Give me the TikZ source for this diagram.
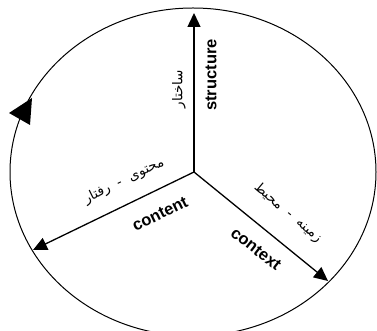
\documentclass[tikz,border=0pt]{standalone}
\usepackage{fontspec}
\setmainfont{Liberation Sans}
\newfontfamily\farsifont[Script=Arabic]{DejaVu Sans}
\TeXXeTstate=1
\usetikzlibrary{arrows.meta}
\newcommand{\fa}[1]{{\farsifont\beginR #1\endR}}

\begin{document}
\begin{tikzpicture}[x=1pt,y=1pt,
  axis/.style={line width=1.3pt, -{Triangle[length=14pt,width=13pt]}},
  enlabel/.style={font=\bfseries\fontsize{16.5}{16.5}\selectfont, inner sep=0pt},
  falabel/.style={font=\fontsize{13.5}{13.5}\selectfont, inner sep=0pt}]

  \useasboundingbox (0,0) rectangle (377,331);
  \clip (0,0) rectangle (377,331);

  % Outer ellipse
  \draw[line width=1pt] (193,159) ellipse [x radius=183, y radius=164];

  % Turning mark on the ellipse
  \fill (9,218) -- (32,233) -- (30,206) -- cycle;

  % Centre and axis ends
  \coordinate (O) at (194,159);
  \coordinate (S) at (194,318);
  \coordinate (C) at (33,81);
  \coordinate (X) at (328,50);

  % Axes
  \draw[axis] (O) -- (S);
  \draw[axis] (O) -- (C);
  \draw[axis] (O) -- (X);

  % Labels
  \node[enlabel, rotate=90]  (structure) at (211,256) {structure};
  \node[falabel, rotate=90]  (sakhtar)   at (179,242) {\fa{ساختار}};
  \node[enlabel, rotate=26]  (content)   at (160,117) {content};
  \node[falabel, rotate=26]  (mohtava)   at (124,150) {\fa{محتوی \ - \ رفتار}};
  \node[enlabel, rotate=-38] (context)   at (256,82)  {context};
  \node[falabel, rotate=-40] (zamine)    at (288,118) {\fa{زمینه \ - \ محیط}};

\end{tikzpicture}
\end{document}
